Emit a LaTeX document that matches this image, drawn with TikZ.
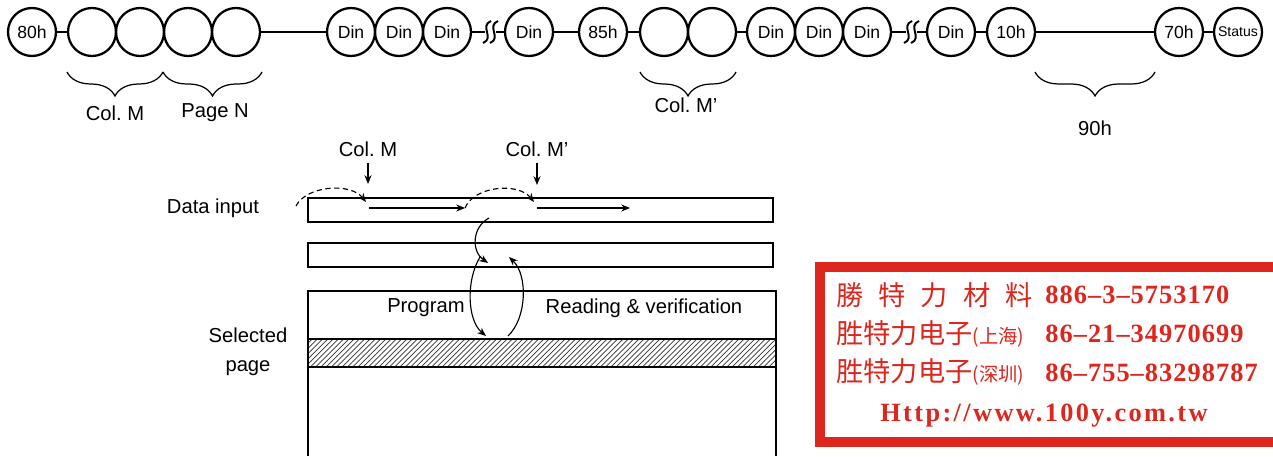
\documentclass[tikz,border=0pt]{standalone}
\usepackage{fontspec}
\setmainfont{Liberation Sans}
\newfontfamily\cjkfont{Noto Sans CJK SC}
\newfontfamily\stampfont{Liberation Serif}[LetterSpace=4]
\definecolor{stampRed}{RGB}{220, 38, 30}
\usetikzlibrary{arrows.meta, decorations.pathreplacing, patterns}

\tikzset{
  byte/.style={circle, draw, line width=1.3pt, minimum size=0.96cm, inner sep=0pt,
    font=\fontsize{10}{12}\selectfont},
  wire/.style={line width=1.1pt},
  bytebrace/.style={decorate, decoration={brace, mirror, amplitude=0.48cm}, line width=0.7pt},
  txt/.style={font=\fontsize{11.5}{16.3}\selectfont},
  reg/.style={draw, line width=0.7pt},
  flow/.style={-{Stealth[length=5pt, width=4pt]}, line width=0.65pt},
  hop/.style={flow, dash pattern=on 3pt off 2pt},
  stamp/.style={inner sep=0pt, text=stampRed}
}

\begin{document}
\begin{tikzpicture}[x=0.02cm, y=-0.02cm]
  \useasboundingbox (0,0) rectangle (1273,456);

  % Command sequence
  \foreach \name/\x/\txt in {n80/32/80h, c1/92/{}, c2/140/{}, c3/188/{}, c4/236/{},
      d1/351/Din, d2/399/Din, d3/447/Din, d4/529/Din, n85/603/85h, c5/664/{}, c6/712/{},
      d5/771/Din, d6/819/Din, d7/867/Din, d8/951/Din, n10/1011/10h, n70/1179/70h} {
    \node[byte] (\name) at (\x,32) {\txt};
  }
  \node[byte, font=\fontsize{8}{9}\selectfont] (st) at (1238,32) {Status};

  \coordinate (b1l) at (485,32);
  \coordinate (b1r) at (496,32);
  \coordinate (b2l) at (906,32);
  \coordinate (b2r) at (917,32);
  \foreach \a/\b in {n80/c1, c4/d1, d3/b1l, b1r/d4, d4/n85, n85/c5, c6/d5,
      d7/b2l, b2r/d8, d8/n10, n10/n70, n70/st} {
    \draw[wire] (\a) -- (\b);
  }
  % breaks
  \foreach \x in {487, 494, 908, 915} {
    \draw[wire] (\x+4,21) .. controls (\x-8,26) and (\x+8,38) .. (\x-4,43);
  }

  % Braces
  \draw[bytebrace] (67,72) -- (163,72);
  \draw[bytebrace] (163,72) -- (262,72);
  \draw[bytebrace] (640,72) -- (736,72);
  \draw[bytebrace] (1035,72) -- (1155,72);
  \node[txt] (colm) at (115,113) {Col.\ M};
  \node[txt] (pagen) at (215,113) {Page N};
  \node[txt] (colmp) at (686,105) {Col.\ M’};
  \node[txt] (h90) at (1095,128) {90h};

  % Registers and page
  \draw[reg] (308,198) rectangle (773,222);
  \draw[reg] (308,243) rectangle (773,267);
  \draw[reg] (308,456) -- (308,291) -- (776,291) -- (776,456);
  \draw[reg, pattern=north east lines, pattern color=black!80] (308,339) rectangle (776,367);

  \node[txt] (din) at (213,208) {Data input};
  \node[txt, align=center] (sel) at (248,352) {Selected\\page};
  \node[txt] (prg) at (426,308) {Program};
  \node[txt] (rdv) at (644,308) {Reading \& verification};

  % Column pointers
  \node[txt] (ptm) at (368,149) {Col.\ M};
  \node[txt] (ptmp) at (537,149) {Col.\ M’};
  \coordinate (ptmtip) at (368,184);
  \coordinate (ptmptip) at (537,185);
  \draw[flow] (ptm) -- (ptmtip);
  \draw[flow] (ptmp) -- (ptmptip);

  % Data input
  \coordinate (q0) at (296,206);
  \coordinate (q1) at (366,202);
  \coordinate (r1s) at (369,208);
  \coordinate (r1e) at (465,208);
  \coordinate (q2) at (534,202);
  \coordinate (r2s) at (537,208);
  \coordinate (r2e) at (630,208);
  \draw[hop] (q0) .. controls (306,186) and (350,182) .. (q1);
  \draw[flow] (r1s) -- (r1e);
  \draw[hop] (r1e) .. controls (474,186) and (518,182) .. (q2);
  \draw[flow] (r2s) -- (r2e);

  % Transfer
  \coordinate (t0) at (489,218);
  \coordinate (t1) at (488,263);
  \coordinate (p0) at (480,257);
  \coordinate (p1) at (486,336);
  \coordinate (v0) at (508,336);
  \coordinate (v1) at (509,257);
  \draw[flow] (t0) .. controls (471,228) and (472,252) .. (t1);
  \draw[flow] (p0) .. controls (466,280) and (467,320) .. (p1);
  \draw[flow] (v0) .. controls (527,318) and (528,275) .. (v1);

  % Stamp
  \fill[stampRed] (815,262) rectangle (1273,447);
  \fill[white] (825,272) rectangle (1273,437);
  \node[stamp, anchor=base west] (cn1) at (836,305)
    {\cjkfont\fontsize{15.5}{16}\selectfont 勝\hspace{0.3cm}特\hspace{0.3cm}力\hspace{0.3cm}材\hspace{0.3cm}料};
  \node[stamp, anchor=base west] (cn2) at (836,343)
    {\cjkfont\fontsize{15.5}{16}\selectfont 胜特力电子{\fontsize{11}{12}\selectfont(上海)}};
  \node[stamp, anchor=base west] (cn3) at (836,381)
    {\cjkfont\fontsize{15.5}{16}\selectfont 胜特力电子{\fontsize{11}{12}\selectfont(深圳)}};
  \node[stamp, anchor=base west] (nm1) at (1045,303)
    {\stampfont\bfseries\fontsize{15}{16}\selectfont 886–3–5753170};
  \node[stamp, anchor=base west] (nm2) at (1045,342)
    {\stampfont\bfseries\fontsize{15}{16}\selectfont 86–21–34970699};
  \node[stamp, anchor=base west] (nm3) at (1045,381)
    {\stampfont\bfseries\fontsize{15}{16}\selectfont 86–755–83298787};
  \node[stamp, anchor=base] (url) at (1044,421)
    {\stampfont\addfontfeature{LetterSpace=9}\bfseries\fontsize{15}{16}\selectfont Http://www.100y.com.tw};
\end{tikzpicture}
\end{document}
